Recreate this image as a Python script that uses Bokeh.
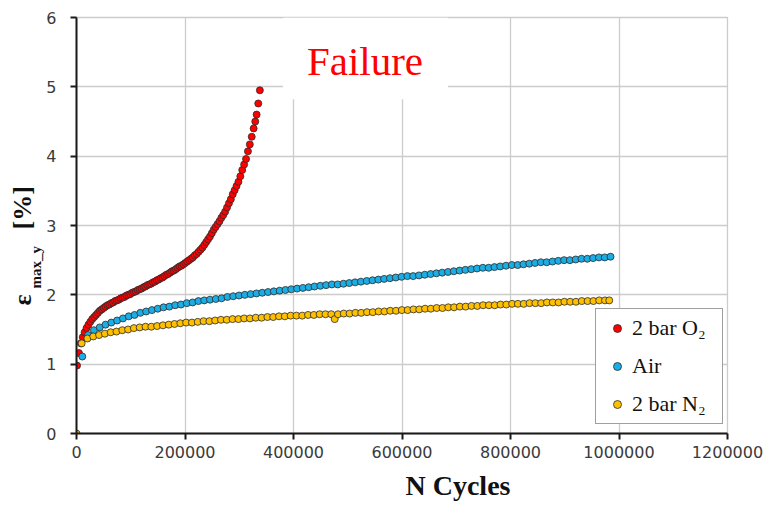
from bokeh.plotting import figure
from bokeh.models import Range1d, FixedTicker, Label, BoxAnnotation, Legend, LegendItem, Title
from bokeh.embed import file_html
from bokeh.resources import INLINE

# ---------------- data ----------------
o2_cycles = [1000, 4500, 8000, 11500, 15000, 18500, 22000, 25500, 29000, 32500,
             36000, 39500, 43000, 46500, 50000, 53500, 57000, 60500, 64000, 67500,
             71000, 74500, 78000, 81500, 85000, 88500, 92000, 95500, 99000, 102500,
             106000, 109500, 113000, 116500, 120000, 123500, 127000, 130500, 134000, 137500,
             141000, 144500, 148000, 151500, 155000, 158500, 162000, 165500, 169000, 172500,
             176000, 179500, 183000, 186500, 190000, 193500, 197000, 200500, 204000, 207500,
             211000, 214500, 218000, 221500, 225000, 228500, 232000, 235500, 239000, 242500,
             246000, 249500, 253000, 256500, 260000, 263500, 267000, 270500, 274000, 277500,
             281000, 284500, 288000, 291500, 295000, 298500, 302000, 305500, 309000, 312500,
             316000, 319500, 323000, 326500, 329500, 332000, 335000, 338000]
o2_strain = [0.98, 1.16, 1.30, 1.39, 1.46, 1.52, 1.57, 1.61, 1.65, 1.68,
             1.71, 1.74, 1.77, 1.79, 1.81, 1.83, 1.85, 1.86, 1.88, 1.89,
             1.91, 1.92, 1.93, 1.95, 1.96, 1.97, 1.99, 2.00, 2.01, 2.03,
             2.04, 2.05, 2.07, 2.08, 2.09, 2.11, 2.12, 2.14, 2.15, 2.16,
             2.18, 2.19, 2.21, 2.22, 2.24, 2.25, 2.27, 2.29, 2.30, 2.32,
             2.34, 2.35, 2.37, 2.39, 2.41, 2.42, 2.44, 2.46, 2.48, 2.50,
             2.52, 2.54, 2.57, 2.59, 2.62, 2.65, 2.68, 2.72, 2.76, 2.80,
             2.84, 2.89, 2.94, 2.98, 3.02, 3.06, 3.11, 3.15, 3.20, 3.26,
             3.32, 3.38, 3.45, 3.51, 3.57, 3.63, 3.71, 3.80, 3.88, 3.96,
             4.07, 4.17, 4.28, 4.40, 4.50, 4.60, 4.76, 4.95]

air_cycles = [10700, 21400, 32100, 42800, 53500, 64200, 74900, 85600, 96300, 107000,
              117700, 128400, 139100, 149800, 160500, 171200, 181900, 192600, 203300, 214000,
              224700, 235400, 246100, 256800, 267500, 278200, 288900, 299600, 310300, 321000,
              331700, 342400, 353100, 363800, 374500, 385200, 395900, 406600, 417300, 428000,
              438700, 449400, 460100, 470800, 481500, 492200, 502900, 513600, 524300, 535000,
              545700, 556400, 567100, 577800, 588500, 599200, 609900, 620600, 631300, 642000,
              652700, 663400, 674100, 684800, 695500, 706200, 716900, 727600, 738300, 749000,
              759700, 770400, 781100, 791800, 802500, 813200, 823900, 834600, 845300, 856000,
              866700, 877400, 888100, 898800, 909500, 920200, 930900, 941600, 952300, 963000,
              973700, 984400]
air_strain = [1.11, 1.42, 1.49, 1.53, 1.57, 1.60, 1.63, 1.66, 1.69, 1.71,
              1.74, 1.76, 1.78, 1.80, 1.82, 1.83, 1.85, 1.86, 1.88, 1.89,
              1.91, 1.92, 1.93, 1.94, 1.95, 1.97, 1.98, 1.99, 2.00, 2.01,
              2.02, 2.03, 2.04, 2.05, 2.06, 2.07, 2.08, 2.09, 2.10, 2.11,
              2.12, 2.13, 2.14, 2.15, 2.15, 2.16, 2.17, 2.18, 2.19, 2.20,
              2.21, 2.22, 2.23, 2.24, 2.25, 2.26, 2.27, 2.27, 2.28, 2.29,
              2.30, 2.31, 2.32, 2.33, 2.34, 2.35, 2.36, 2.37, 2.38, 2.39,
              2.39, 2.40, 2.41, 2.42, 2.43, 2.43, 2.44, 2.45, 2.46, 2.47,
              2.47, 2.48, 2.49, 2.50, 2.50, 2.51, 2.52, 2.52, 2.53, 2.54,
              2.54, 2.55]

n2_cycles = [0, 9500,
             20200, 30900, 41600, 52300, 63000, 73700, 84400, 95100, 105800, 116500,
             127200, 137900, 148600, 159300, 170000, 180700, 191400, 202100, 212800, 223500,
             234200, 244900, 255600, 266300, 277000, 287700, 298400, 309100, 319800, 330500,
             341200, 351900, 362600, 373300, 384000, 394700, 405400, 416100, 426800, 437500,
             448200, 458900, 469600,
             476000, 482000,
             492700, 503400, 514100, 524800, 535500, 546200, 556900, 567600, 578300, 589000,
             599700, 610400, 621100, 631800, 642500, 653200, 663900, 674600, 685300, 696000,
             706700, 717400, 728100, 738800, 749500, 760200, 770900, 781600, 792300, 803000,
             813700, 824400, 835100, 845800, 856500, 867200, 877900, 888600, 899300, 910000,
             920700, 931400, 942100, 952800, 963500, 974200, 982000]
n2_strain = [0.00, 1.30,
             1.37, 1.40, 1.42, 1.44, 1.46, 1.47, 1.49, 1.50, 1.52, 1.53,
             1.54, 1.54, 1.55, 1.56, 1.57, 1.58, 1.59, 1.60, 1.60, 1.61,
             1.62, 1.62, 1.63, 1.64, 1.64, 1.65, 1.65, 1.66, 1.66, 1.67,
             1.67, 1.68, 1.68, 1.69, 1.69, 1.70, 1.70, 1.70, 1.71, 1.71,
             1.72, 1.72, 1.72,
             1.65, 1.72,
             1.73, 1.73, 1.74, 1.74, 1.75, 1.75, 1.76, 1.76, 1.77, 1.77,
             1.78, 1.78, 1.79, 1.79, 1.80, 1.80, 1.81, 1.81, 1.82, 1.82,
             1.83, 1.83, 1.84, 1.84, 1.85, 1.85, 1.85, 1.86, 1.86, 1.87,
             1.87, 1.87, 1.88, 1.88, 1.88, 1.89, 1.89, 1.89, 1.90, 1.90,
             1.90, 1.91, 1.91, 1.91, 1.92, 1.92, 1.92]

series_names = ["2 bar O\u2082", "Air", "2 bar N\u2082"]
series_colors = ["#ff0000", "#1cade4", "#ffc000"]

x_ticks = [0, 200000, 400000, 600000, 800000, 1000000, 1200000]
x_tick_labels = ["0", "200000", "400000", "600000", "800000", "1000000", "1200000"]
y_ticks = [0, 1, 2, 3, 4, 5, 6]
y_tick_labels = ["0", "1", "2", "3", "4", "5", "6"]

x_title = "N Cycles"
y_title_main = "\u03b5" + "\u00a0" * 10 + "[%]"
y_title_sub = "max_y"
note_text = "Failure"

# ---------------- figure ----------------
p = figure(frame_width=651, frame_height=416,
           x_range=Range1d(0, 1200000), y_range=Range1d(0, 6),
           output_backend="svg", toolbar_location=None,
           min_border_left=76, min_border_right=36, min_border_top=17, min_border_bottom=70)
p.background_fill_color = "white"
p.border_fill_color = "white"
p.outline_line_color = "#cccccc"
p.outline_line_width = 1.3

for ax, ticks, labels in ((p.xaxis, x_ticks, x_tick_labels), (p.yaxis, y_ticks, y_tick_labels)):
    ax.ticker = FixedTicker(ticks=ticks)
    ax.major_label_overrides = {t: l for t, l in zip(ticks, labels)}
    ax.axis_line_color = "#1a1a1a"
    ax.axis_line_width = 2
    ax.major_tick_line_color = "#1a1a1a"
    ax.major_tick_line_width = 2
    ax.major_tick_out = 6
    ax.major_tick_in = 0
    ax.minor_tick_out = 0
    ax.minor_tick_in = 0
    ax.major_label_text_font = "DejaVu Sans"
    ax.major_label_text_font_size = "16px"
    ax.major_label_text_color = "#3a3a3a"
p.xaxis.major_label_standoff = 6
p.yaxis.major_label_standoff = 14

# x axis title (leading no-break spaces shift it right of the frame centre, as in the original)
p.xaxis.axis_label = "\u00a0" * 16 + x_title
p.xaxis.axis_label_standoff = 9
p.xaxis.axis_label_text_font = "Liberation Serif"
p.xaxis.axis_label_text_font_style = "bold"
p.xaxis.axis_label_text_font_size = "28px"
p.xaxis.axis_label_text_color = "#111111"

p.xgrid.ticker = FixedTicker(ticks=x_ticks)
p.ygrid.ticker = FixedTicker(ticks=y_ticks)
for g in (p.xgrid, p.ygrid):
    g.grid_line_color = "#cccccc"
    g.grid_line_width = 1.3

renderers = []
for xs, ys, col in ((o2_cycles, o2_strain, series_colors[0]),
                    (air_cycles, air_strain, series_colors[1]),
                    (n2_cycles, n2_strain, series_colors[2])):
    r = p.scatter(xs, ys, size=7, fill_color=col, line_color="#2b2b2b", line_width=0.8)
    renderers.append(r)

# Failure text with white box
p.add_layout(BoxAnnotation(left=380600, right=684800, bottom=4.82, top=6,
                           fill_color="white", fill_alpha=1.0, line_alpha=0))
p.add_layout(Label(x=531800, y=5.37, text=note_text, text_align="center",
                   text_baseline="alphabetic", text_font="Liberation Serif",
                   text_font_size="41px", text_color="#ff0000"))

# y axis title: subscript part next to the axis, main part further out
p.add_layout(Title(text=y_title_sub, align="left", offset=145, standoff=0,
                   text_font="Liberation Serif", text_font_style="bold",
                   text_font_size="15px", text_color="#111111"), "left")
p.add_layout(Title(text=y_title_main, align="left", offset=128, standoff=-22,
                   text_font="Liberation Serif", text_font_style="bold",
                   text_font_size="26px", text_color="#111111"), "left")

legend = Legend(items=[LegendItem(label=n, renderers=[r]) for n, r in zip(series_names, renderers)],
                location=(519, 9), orientation="vertical")
legend.label_text_font = "Liberation Serif"
legend.label_text_font_size = "22px"
legend.label_text_color = "#111111"
legend.glyph_width = 30
legend.glyph_height = 20
legend.label_height = 20
legend.label_width = 84
legend.label_standoff = 0
legend.spacing = 12
legend.padding = 6
legend.margin = 0
legend.border_line_color = "#3f3f3f"
legend.border_line_width = 1.2
legend.background_fill_color = "white"
legend.background_fill_alpha = 1.0
p.add_layout(legend)

open("out.html", "w").write(file_html(p, INLINE))
